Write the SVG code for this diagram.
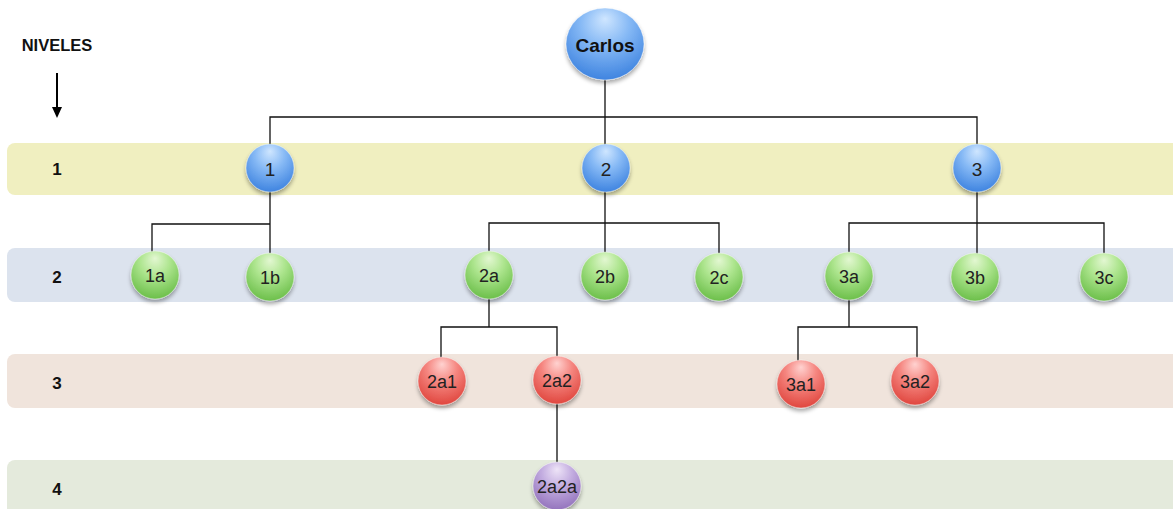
<svg xmlns="http://www.w3.org/2000/svg" width="1173" height="509" viewBox="0 0 1173 509">
<defs>
<radialGradient id="gBlue" cx="50%" cy="30%" r="70%" fx="50%" fy="15%">
<stop offset="0" stop-color="#cfe6ff"/><stop offset="0.45" stop-color="#86b9f5"/><stop offset="1" stop-color="#3f84e0"/>
</radialGradient>
<radialGradient id="gGreen" cx="50%" cy="30%" r="70%" fx="50%" fy="15%">
<stop offset="0" stop-color="#e3f7d2"/><stop offset="0.45" stop-color="#ade58e"/><stop offset="1" stop-color="#6cbf4a"/>
</radialGradient>
<radialGradient id="gRed" cx="50%" cy="30%" r="70%" fx="50%" fy="15%">
<stop offset="0" stop-color="#ffd2d0"/><stop offset="0.45" stop-color="#f58680"/><stop offset="1" stop-color="#e0473f"/>
</radialGradient>
<radialGradient id="gPurple" cx="50%" cy="30%" r="70%" fx="50%" fy="15%">
<stop offset="0" stop-color="#eee4f7"/><stop offset="0.45" stop-color="#c3ade0"/><stop offset="1" stop-color="#9474bd"/>
</radialGradient>
<filter id="sh" x="-30%" y="-30%" width="160%" height="170%">
<feGaussianBlur in="SourceAlpha" stdDeviation="2"/><feOffset dy="3"/><feComponentTransfer><feFuncA type="linear" slope="0.35"/></feComponentTransfer>
<feMerge><feMergeNode/><feMergeNode in="SourceGraphic"/></feMerge>
</filter>
<marker id="arr" viewBox="0 0 10 10" refX="5" refY="8" markerWidth="9" markerHeight="9" orient="auto" markerUnits="userSpaceOnUse">
<path d="M0,0 L10,5 L0,10 L2,5 Z" fill="#000"/>
</marker>
</defs>
<style>
.lvl{font-family:"Liberation Sans",Arial,sans-serif;font-weight:bold;font-size:17px;fill:#111;text-anchor:middle}
.lab{font-family:"Liberation Sans",Arial,sans-serif;font-size:18px;fill:#222;text-anchor:middle;dominant-baseline:central}
.big{font-size:19px}
.bold{font-weight:bold;fill:#111}
.con{fill:none;stroke:#111;stroke-width:1.3}
.n{stroke:#ffffff;stroke-opacity:0.5;stroke-width:0.8;filter:url(#sh)}
</style>
<rect x="0" y="0" width="1173" height="509" fill="#fff"/>
<g id="bands">
<rect x="7" y="143" width="1180" height="52" rx="8" fill="#f0efc0"/>
<rect x="7" y="248" width="1180" height="54" rx="8" fill="#dce3ee"/>
<rect x="7" y="354" width="1180" height="54" rx="8" fill="#f0e4dc"/>
<rect x="7" y="460" width="1180" height="60" rx="8" fill="#e4eadc"/>
</g>
<g id="legend">
<text x="57" y="51" class="lvl" style="font-size:16.5px">NIVELES</text>
<line x1="57" y1="73" x2="57" y2="110" stroke="#000" stroke-width="2"/>
<polygon points="52,107 62,107 57,118" fill="#000"/>
<text x="57" y="175" class="lvl">1</text>
<text x="57" y="283" class="lvl">2</text>
<text x="57" y="389" class="lvl">3</text>
<text x="57" y="495" class="lvl">4</text>
</g>
<g id="connectors">
<path class="con" d="M605,80 V168 M270,168 V117 H977 V168"/>
<path class="con" d="M270,168 V277 M270,224 H152 V277"/>
<path class="con" d="M605,168 V277 M489,277 V223 H719 V277"/>
<path class="con" d="M977,168 V277 M849,277 V223 H1104 V277"/>
<path class="con" d="M489,277 V327 M441,381 V327 H557 V486"/>
<path class="con" d="M849,277 V327 M798,384 V327 H917 V381"/>
</g>
<g id="n-carlos"><ellipse class="n" cx="605" cy="44" rx="39" ry="36" fill="url(#gBlue)"/><text x="605" y="45" class="lab big bold">Carlos</text></g>
<g id="n-1"><circle class="n" cx="270" cy="168" r="24" fill="url(#gBlue)"/><text x="270" y="169" class="lab big">1</text></g>
<g id="n-2"><circle class="n" cx="606" cy="168" r="24" fill="url(#gBlue)"/><text x="606" y="169" class="lab big">2</text></g>
<g id="n-3"><circle class="n" cx="977" cy="168" r="24" fill="url(#gBlue)"/><text x="977" y="169" class="lab big">3</text></g>
<g id="n-1a"><circle class="n" cx="155" cy="275" r="24" fill="url(#gGreen)"/><text x="155" y="276" class="lab">1a</text></g>
<g id="n-1b"><circle class="n" cx="270" cy="277" r="24" fill="url(#gGreen)"/><text x="270" y="278" class="lab">1b</text></g>
<g id="n-2a"><circle class="n" cx="489" cy="275" r="24" fill="url(#gGreen)"/><text x="489" y="276" class="lab">2a</text></g>
<g id="n-2b"><circle class="n" cx="605" cy="276" r="24" fill="url(#gGreen)"/><text x="605" y="277" class="lab">2b</text></g>
<g id="n-2c"><circle class="n" cx="719" cy="277" r="24" fill="url(#gGreen)"/><text x="719" y="278" class="lab">2c</text></g>
<g id="n-3a"><circle class="n" cx="849" cy="276" r="24" fill="url(#gGreen)"/><text x="849" y="277" class="lab">3a</text></g>
<g id="n-3b"><circle class="n" cx="975" cy="277" r="24" fill="url(#gGreen)"/><text x="975" y="278" class="lab">3b</text></g>
<g id="n-3c"><circle class="n" cx="1104" cy="277" r="24" fill="url(#gGreen)"/><text x="1104" y="278" class="lab">3c</text></g>
<g id="n-2a1"><circle class="n" cx="442" cy="381" r="24" fill="url(#gRed)"/><text x="442" y="382" class="lab">2a1</text></g>
<g id="n-2a2"><circle class="n" cx="557" cy="380" r="24" fill="url(#gRed)"/><text x="557" y="381" class="lab">2a2</text></g>
<g id="n-3a1"><circle class="n" cx="801" cy="384" r="24" fill="url(#gRed)"/><text x="801" y="385" class="lab">3a1</text></g>
<g id="n-3a2"><circle class="n" cx="915" cy="381" r="24" fill="url(#gRed)"/><text x="915" y="382" class="lab">3a2</text></g>
<g id="n-2a2a"><circle class="n" cx="557" cy="486" r="24" fill="url(#gPurple)"/><text x="557" y="487" class="lab">2a2a</text></g>
</svg>
